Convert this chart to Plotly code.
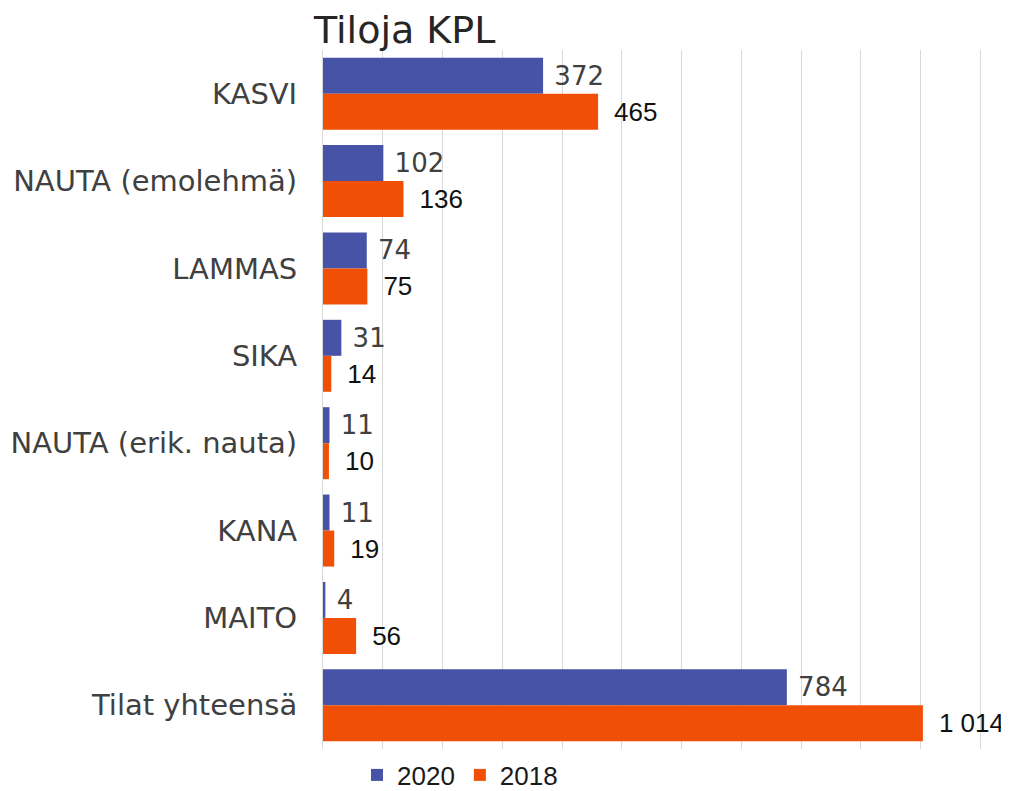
import plotly.graph_objects as go

categories = ["KASVI", "NAUTA (emolehmä)", "LAMMAS", "SIKA", "NAUTA (erik. nauta)",
              "KANA", "MAITO", "Tilat yhteensä"]
values_2020 = [372, 102, 74, 31, 11, 11, 4, 784]
values_2018 = [465, 136, 75, 14, 10, 19, 56, 1014]

BLUE = "#4753A6"
ORANGE = "#F05005"

# The page body has an 8px default margin, so the figure is sized to fit the window.
W, H = 1001, 783

fig = go.Figure()
fig.add_trace(go.Bar(
    y=categories, x=values_2020, name="2020", orientation="h",
    marker=dict(color=BLUE, line=dict(width=0)),
    texttemplate="\u00a0%{x:,}", textposition="outside",
    textfont=dict(family="DejaVu Sans", size=26, color="#404040"),
    constraintext="none", cliponaxis=False,
))
fig.add_trace(go.Bar(
    y=categories, x=values_2018, name="2018", orientation="h",
    marker=dict(color=ORANGE, line=dict(width=0)),
    texttemplate="\u2002%{x:,}", textposition="outside",
    textfont=dict(family="Liberation Sans, Arial", size=26, color="#111111"),
    constraintext="none", cliponaxis=False,
))

fig.update_layout(
    width=W, height=H,
    margin=dict(l=315, r=8, t=42, b=42, autoexpand=False),
    paper_bgcolor="white", plot_bgcolor="white",
    barmode="group", bargap=0.176, bargroupgap=0,
    separators=", ",
    title=dict(text="Tiloja KPL", xref="container", x=306/W, xanchor="left",
               yref="container", y=1 - 22/H, yanchor="middle",
               font=dict(family="DejaVu Sans", size=38, color="#262626")),
    showlegend=True,
    legend=dict(orientation="h", xref="container", x=452/W, xanchor="center",
                yref="container", y=1 - 767/H, yanchor="middle",
                font=dict(family="Liberation Sans, Arial", size=26, color="#1a1a1a"),
                itemwidth=30, traceorder="normal", bgcolor="rgba(0,0,0,0)"),
    xaxis=dict(range=[0, 1146], showticklabels=False, showgrid=True,
               gridcolor="#d9d9d9", gridwidth=1, tick0=0, dtick=101,
               zeroline=False, showline=False, fixedrange=True, automargin=False),
    yaxis=dict(autorange="reversed", showgrid=False, showline=True,
               linecolor="#d9d9d9", linewidth=1, ticks="",
               ticklabelstandoff=19, automargin=False,
               tickfont=dict(family="DejaVu Sans", size=29, color="#404040")),
)

fig.write_html("out.html")
